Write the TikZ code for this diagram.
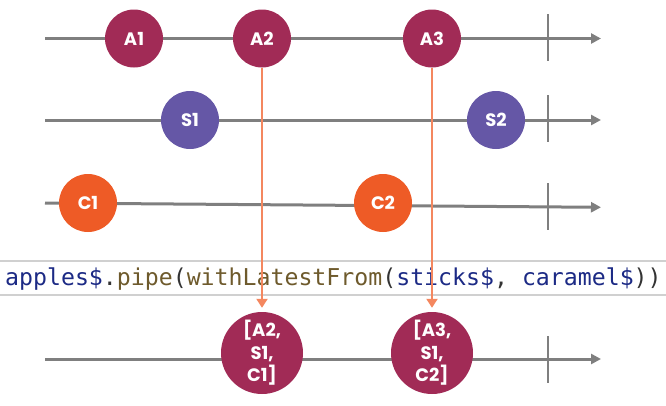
\documentclass[tikz,border=0pt]{standalone}
\usepackage{fontspec}
\newfontfamily\labfont{Poppins}
\newfontfamily\codefont{DejaVu Sans Mono}
\usetikzlibrary{arrows.meta}
\definecolor{crim}{HTML}{A12B56}
\definecolor{purp}{HTML}{6557A6}
\definecolor{oran}{HTML}{EE5B26}
\definecolor{link}{HTML}{F4875F}
\definecolor{axis}{HTML}{7F7F7F}
\definecolor{band}{HTML}{D0D0D0}
\definecolor{navy}{HTML}{1C2A85}
\definecolor{brwn}{HTML}{6E5A2C}
\definecolor{punc}{HTML}{333333}
\tikzset{
  marble/.style={circle,minimum size=58pt,inner sep=0pt,text=white,font=\labfont\bfseries\fontsize{18}{20}\selectfont},
  result/.style={circle,minimum size=82pt,inner sep=0pt,fill=crim,text=white,align=center,font=\labfont\bfseries\fontsize{18}{22.5}\selectfont},
  timeline/.style={draw=axis,line width=3pt,-{Triangle[length=10pt,width=10pt]}},
  tick/.style={draw=axis,line width=2pt},
  link/.style={draw=link,line width=2pt,-{Triangle[length=9pt,width=11pt]}}
}
\begin{document}
\begin{tikzpicture}[x=1pt,y=-1pt]
\useasboundingbox (0,0) rectangle (666,405);
% timelines
\coordinate (l1s) at (45,38.5); \coordinate (l1e) at (601,38.5);
\coordinate (l2s) at (45,120); \coordinate (l2e) at (601,120);
\coordinate (l3s) at (45,203); \coordinate (l3e) at (601,207.3);
\coordinate (l4s) at (45,359); \coordinate (l4e) at (601,359);
\draw[timeline] (l1s) -- (l1e);
\draw[timeline] (l2s) -- (l2e);
\draw[timeline] (l3s) -- (l3e);
\draw[timeline] (l4s) -- (l4e);
% completion ticks
\coordinate (t1a) at (548,14); \coordinate (t1b) at (548,61);
\coordinate (t2a) at (548,95); \coordinate (t2b) at (548,142);
\coordinate (t3a) at (548,183); \coordinate (t3b) at (548,230);
\coordinate (t4a) at (548,336); \coordinate (t4b) at (548,383);
\draw[tick] (t1a) -- (t1b);
\draw[tick] (t2a) -- (t2b);
\draw[tick] (t3a) -- (t3b);
\draw[tick] (t4a) -- (t4b);
% code band
\coordinate (b1a) at (0,261); \coordinate (b1b) at (666,261);
\coordinate (b2a) at (0,295); \coordinate (b2b) at (666,295);
\fill[white] (0,261) rectangle (666,295);
\draw[band,line width=1.2pt] (b1a) -- (b1b);
\draw[band,line width=1.2pt] (b2a) -- (b2b);
\node[anchor=base west,inner sep=0pt,font=\codefont\fontsize{23.2}{26}\selectfont] (code) at (5,285)
  {\textcolor{navy}{apples\$}\textcolor{punc}{.}\textcolor{brwn}{pipe}\textcolor{punc}{(}\textcolor{brwn}{withLatestFrom}\textcolor{punc}{(}\textcolor{navy}{sticks\$}\textcolor{punc}{,} \textcolor{navy}{caramel\$}\textcolor{punc}{))}};
% marbles
\node[marble,fill=crim] (a1) at (134,38.5) {A1};
\node[marble,fill=crim] (a2) at (262,38.5) {A2};
\node[marble,fill=crim] (a3) at (432,38.5) {A3};
\node[marble,fill=purp] (s1) at (190,120) {S1};
\node[marble,fill=purp] (s2) at (496,120) {S2};
\node[marble,fill=oran] (c1) at (88,203) {C1};
\node[marble,fill=oran] (c2) at (383,203) {C2};
\node[result] (r1) at (262,353) {[A2,\\S1,\\C1]};
\node[result] (r2) at (432,353) {[A3,\\S1,\\C2]};
% links
\draw[link,shorten >=4pt] (a2.south) -- (r1.north);
\draw[link,shorten >=4pt] (a3.south) -- (r2.north);
\end{tikzpicture}
\end{document}
